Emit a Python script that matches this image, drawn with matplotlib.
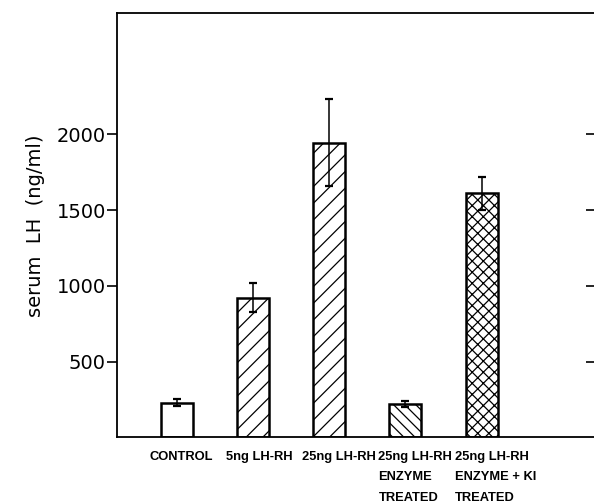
"""Serum LH response to LH-RH treatments (bar chart with hatching)."""

import matplotlib
matplotlib.use("Agg")
import matplotlib.pyplot as plt
import matplotlib.lines as mlines
import numpy as np
from matplotlib.transforms import ScaledTranslation

categories = [
    "CONTROL",
    "5ng LH-RH",
    "25ng LH-RH",
    "25ng LH-RH\nENZYME\nTREATED",
    "25ng LH-RH\nENZYME + KI\nTREATED",
]
lh_mean = [229, 922, 1946, 220, 1611]
lh_err = [24, 97, 285, 22, 110]
hatches = ["", "//", "//", "\\\\\\", "xxx"]
y_ticks = [500, 1000, 1500, 2000]

plt.rcParams["hatch.linewidth"] = 0.9

fig = plt.figure(figsize=(5.94, 5.04), dpi=100)
ax = fig.add_axes([0.197, 0.132, 0.813, 0.842])

x = np.arange(len(categories))
bars = ax.bar(x, lh_mean, width=0.42, color="white", edgecolor="black",
              linewidth=1.8, zorder=2)
for bar, h in zip(bars, hatches):
    bar.set_hatch(h)

ax.errorbar(x, lh_mean, yerr=lh_err, fmt="none", ecolor="black",
            elinewidth=1.1, capsize=3, capthick=1.6, zorder=3)

ax.set_xlim(-0.78, 5.55)
ax.set_ylim(0, 2800)

ax.set_yticks(y_ticks)
ax.set_yticklabels([str(v) for v in y_ticks], fontsize=14)
ax.tick_params(axis="y", which="both", direction="out", length=7, width=1.2,
               right=True, pad=1)
# right-hand ticks point inward
for tick in ax.yaxis.get_major_ticks():
    tick.tick2line.set_marker(mlines.TICKLEFT)
    tick.tick2line.set_markersize(10)
ax.set_ylabel("serum  LH  (ng/ml)", fontsize=14, labelpad=8)

ax.set_xticks(x)
ax.set_xticklabels(categories, fontsize=9.3, fontweight="bold",
                   family="Liberation Sans",
                   ha="left", multialignment="left", linespacing=1.9)
ax.tick_params(axis="x", length=0, pad=10)
shift = ScaledTranslation(-27 / 100, 0, fig.dpi_scale_trans)
for lab in ax.get_xticklabels():
    lab.set_transform(lab.get_transform() + shift)

for side in ["left", "bottom", "top", "right"]:
    ax.spines[side].set_linewidth(1.3)

plt.savefig("out.png", dpi=100)
plt.close()
